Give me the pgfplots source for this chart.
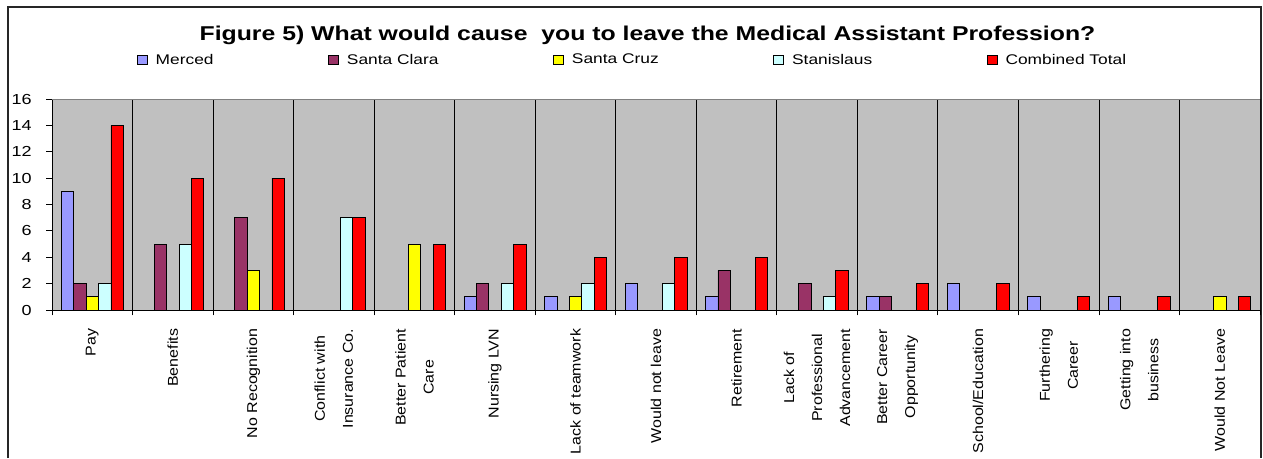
\documentclass[border=0pt]{standalone}
\usepackage{fontspec}
\setmainfont{Liberation Sans}
\newfontfamily\cf{Liberation Sans}[FakeStretch=1.24]
\newfontfamily\cfx{Liberation Sans}[FakeStretch=1.12]
\usepackage{pgfplots}
\usepackage{pgfplotstable}
\pgfplotsset{compat=1.18}
\definecolor{cMerced}{HTML}{9999FF}
\definecolor{cClara}{HTML}{993366}
\definecolor{cCruz}{HTML}{FFFF00}
\definecolor{cStan}{HTML}{CCFFFF}
\definecolor{cTot}{HTML}{FF0000}
\definecolor{cBg}{HTML}{C0C0C0}
\pgfplotstableread{
cat M SC SCz St CT
0 9 2 1 2 14
1 0 5 0 5 10
2 0 7 3 0 10
3 0 0 0 7 7
4 0 0 5 0 5
5 1 2 0 2 5
6 1 0 1 2 4
7 2 0 0 2 4
8 1 3 0 0 4
9 0 2 0 1 3
10 1 1 0 0 2
11 2 0 0 0 2
12 1 0 0 0 1
13 1 0 0 0 1
14 0 0 1 0 1
}\datatable
\begin{document}
\begin{tikzpicture}
\useasboundingbox (0,0) rectangle (947.25pt,-343.5pt);
\draw[line width=1.1pt, black!85] (6pt,-343.5pt) -- (6pt,-5.25pt) -- (945.6pt,-5.25pt) -- (945.6pt,-343.5pt);
\node[anchor=base, font=\cf\bfseries\fontsize{15}{18}\selectfont, inner sep=0pt] at (485.6pt,-30.5pt) {Figure 5) What would cause\ \ you to leave the Medical Assistant Profession?};
\begin{axis}[
  at={(39pt,-232.5pt)}, anchor=south west,
  scale only axis, width=906pt, height=158.25pt,
  ybar=0pt, bar width=9.3pt,
  xmin=-0.5, xmax=14.5, ymin=0, ymax=16,
  ytick={0,2,...,16},
  xtick={0,...,14},
  xticklabels={Pay, Benefits, No Recognition, {Conflict with\\Insurance Co.}, {Better Patient\\Care}, Nursing LVN, Lack of teamwork, Would not leave, Retirement, {Lack of\\Professional\\Advancement}, {Better Career\\Opportunity}, School/Education, {Furthering\\Career}, {Getting into\\business}, Would Not Leave},
  minor xtick={-0.5,0.5,...,14.5},
  xminorgrids=true,
  minor x grid style={black, line width=0.6pt},
  major x tick style={draw=none},
  tick align=outside,
  major tick length=4.5pt, minor tick length=4pt,
  tick style={black, line width=0.6pt},
  axis x line*=bottom, axis y line*=left,
  axis line style={black, line width=0.7pt},
  axis background/.style={fill=cBg},
  /pgf/number format/assume math mode=true,
  yticklabel style={font=\cf\fontsize{10.9}{12}\selectfont, anchor=east, inner sep=0pt, xshift=-10.5pt},
  xticklabel style={font=\cfx\fontsize{10.7}{21}\selectfont, rotate=90, anchor=east, align=center, inner sep=0pt},
  xticklabel shift=9.5pt,
  legend columns=5,
  legend style={at={(axis description cs:0.0704,1.185)}, anchor=west, draw=none, fill=none, inner sep=0pt, outer sep=0pt,
    font=\cf\fontsize{10.5}{12}\selectfont,
    /tikz/every odd column/.append style={column sep=4pt},
    /tikz/every even column/.append style={column sep=84pt}},
  legend image code/.code={\draw[#1, draw=black, line width=0.5pt] (0pt,-3.4pt) rectangle (7.5pt,3.4pt);},
  unbounded coords=discard,
  y filter/.expression={y==0 ? nan : y},
  every axis plot/.append style={draw=black, line width=0.5pt},
]
\addplot[fill=cMerced] table[x=cat,y=M]{\datatable};
\addplot[fill=cClara] table[x=cat,y=SC]{\datatable};
\addplot[fill=cCruz] table[x=cat,y=SCz]{\datatable};
\addplot[fill=cStan] table[x=cat,y=St]{\datatable};
\addplot[fill=cTot] table[x=cat,y=CT]{\datatable};
\legend{Merced, Santa Clara, Santa Cruz, Stanislaus, Combined Total}
\draw[gray, line width=0.6pt] (rel axis cs:0,1) -- (rel axis cs:1,1) -- (rel axis cs:1,0);
\end{axis}
\end{tikzpicture}
\end{document}
